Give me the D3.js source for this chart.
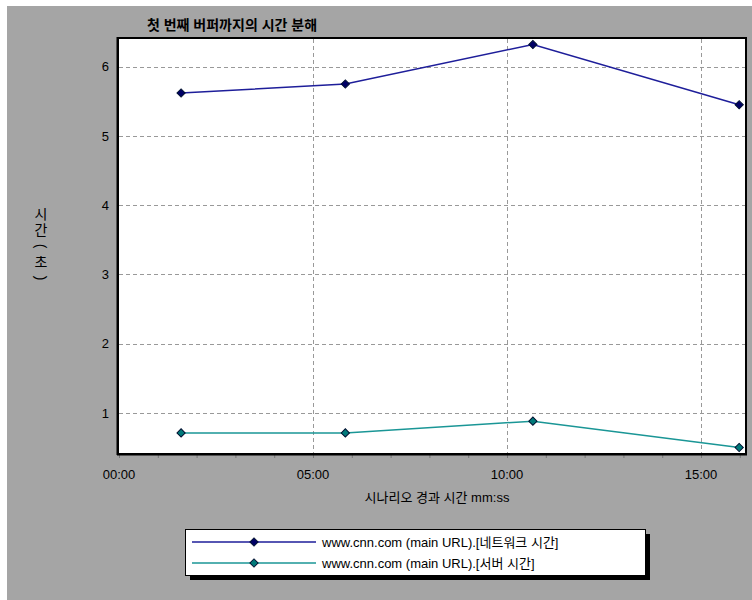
<!DOCTYPE html>
<html><head><meta charset="utf-8">
<script src="https://cdn.jsdelivr.net/npm/d3@7"></script>
<style>
html,body{margin:0;padding:0;background:#fff;}
svg{display:block;}
text{font-family:"Liberation Sans","Noto Sans CJK KR",sans-serif;}
</style></head>
<body>
<svg id="chart" width="752" height="600"></svg>
<script>
const title = "첫 번째 버퍼까지의 시간 분해";
const xAxisTitle = "시나리오 경과 시간 mm:ss";
const yAxisTitle = "시간(초)";
const seriesNames = ["www.cnn.com (main URL).[네트워크 시간]", "www.cnn.com (main URL).[서버 시간]"];
const elapsedSeconds = [96, 350, 640, 959];
const networkTime = [5.62, 5.75, 6.32, 5.45];
const serverTime = [0.71, 0.71, 0.88, 0.50];
const xTickSeconds = [0, 300, 600, 900];
const xTickLabels = ["00:00", "05:00", "10:00", "15:00"];
const yTickValues = [1, 2, 3, 4, 5, 6];
const seriesColors = ["#1e1e9a", "#1a9696"];
const markerColors = ["#000066", "#007a7a"];

const svg = d3.select("#chart");
svg.append("rect").attr("x", 7).attr("y", 6).attr("width", 745).attr("height", 594).attr("fill", "#a5a5a5");

const L = 119, T = 39, R = 745, B = 453;
const x = d3.scaleLinear().domain([0, 968]).range([L, R]);
const y = d3.scaleLinear().domain([0.42, 6.4]).range([B, T]);

svg.append("rect").attr("x", L).attr("y", T).attr("width", R - L).attr("height", B - T).attr("fill", "#fff");

// grid
const g = svg.append("g");
g.selectAll("line.hg").data(yTickValues).join("line")
  .attr("x1", L).attr("x2", R).attr("y1", d => Math.round(y(d)) + 0.5).attr("y2", d => Math.round(y(d)) + 0.5)
  .attr("stroke", "#999").attr("stroke-dasharray", "4,3").attr("stroke-width", 1);
g.selectAll("line.vg").data(xTickSeconds.slice(1)).join("line")
  .attr("y1", T).attr("y2", B).attr("x1", d => Math.round(x(d)) + 0.5).attr("x2", d => Math.round(x(d)) + 0.5)
  .attr("stroke", "#999").attr("stroke-dasharray", "4,3").attr("stroke-width", 1);

// axes
const xAxis = d3.axisBottom(x).tickValues(d3.range(0, 961, 60)).tickSize(4)
  .tickFormat(() => "");
const xa = svg.append("g").attr("transform", `translate(0,${B + 1})`).call(xAxis);
xa.select(".domain").remove();
xa.selectAll("line").attr("stroke", "#777");
const xLab = svg.append("g");
xLab.selectAll("text").data(xTickSeconds).join("text")
  .attr("x", d => x(d)).attr("y", 479).attr("text-anchor", "middle")
  .attr("font-size", 13).attr("fill", "#000").text((d, i) => xTickLabels[i]);

const yAxis = d3.axisLeft(y).tickValues(yTickValues).tickSize(0).tickPadding(10).tickFormat(d3.format("d"));
const ya = svg.append("g").attr("transform", `translate(${L},0)`).call(yAxis);
ya.select(".domain").remove();
ya.selectAll("text").attr("font-size", 13).attr("fill", "#000").attr("font-family", "Liberation Sans, sans-serif");

// frame
svg.append("rect").attr("x", L - 1).attr("y", T - 1).attr("width", R - L + 2).attr("height", B - T + 2)
  .attr("fill", "none").attr("stroke", "#000").attr("stroke-width", 2);
svg.append("line").attr("x1", L - 1.5).attr("x2", L - 1.5).attr("y1", T - 2).attr("y2", B + 2).attr("stroke", "#000").attr("stroke-width", 2);
svg.append("line").attr("x1", L - 2).attr("x2", R + 2).attr("y1", B + 1.5).attr("y2", B + 1.5).attr("stroke", "#000").attr("stroke-width", 2);

// series
const seriesData = [networkTime, serverTime];
const marker = d3.symbol().type(d3.symbolSquare).size(34);
seriesData.forEach((vals, si) => {
  const pts = vals.map((v, i) => [elapsedSeconds[i], v]);
  svg.append("path").datum(pts)
    .attr("d", d3.line().x(d => x(d[0])).y(d => y(d[1])))
    .attr("fill", "none").attr("stroke", seriesColors[si]).attr("stroke-width", 1.5);
  svg.append("g").selectAll("path").data(pts).join("path")
    .attr("transform", d => `translate(${x(d[0])},${y(d[1])}) rotate(45)`)
    .attr("d", marker)
    .attr("fill", markerColors[si]).attr("stroke", "#001030").attr("stroke-width", 1);
});

// titles
svg.append("text").attr("x", 232).attr("y", 30).attr("text-anchor", "middle")
  .attr("font-size", 14).attr("font-weight", "bold").attr("font-family", "Noto Sans CJK KR, sans-serif").text(title);
svg.append("text").attr("x", 437).attr("y", 502).attr("text-anchor", "middle")
  .attr("font-size", 13).attr("font-family", "Liberation Sans, Noto Sans CJK KR, sans-serif").text(xAxisTitle);
const yt = svg.append("g").attr("font-size", 14).attr("font-family", "Noto Sans CJK KR, sans-serif");
Array.from(yAxisTitle).forEach((ch, i) => {
  const isParen = ch === "(" || ch === ")";
  yt.append("text")
    .attr("transform", `translate(41,${214 + i * 16})` + (isParen ? " rotate(90)" : ""))
    .attr("text-anchor", "middle").attr("dominant-baseline", "central")
    .text(ch);
});

// legend
const lx = 185, ly = 529, lw = 460, lh = 46;
svg.append("rect").attr("x", lx + 5).attr("y", ly + 5).attr("width", lw).attr("height", lh).attr("fill", "#000");
svg.append("rect").attr("x", lx + 0.5).attr("y", ly + 0.5).attr("width", lw).attr("height", lh)
  .attr("fill", "#fff").attr("stroke", "#000").attr("stroke-width", 1);
seriesNames.forEach((name, si) => {
  const yy = ly + 13 + si * 21;
  svg.append("line").attr("x1", 192).attr("x2", 316).attr("y1", yy).attr("y2", yy)
    .attr("stroke", seriesColors[si]).attr("stroke-width", 1.5);
  svg.append("path").attr("transform", `translate(254,${yy}) rotate(45)`)
    .attr("d", marker)
    .attr("fill", markerColors[si]).attr("stroke", "#001030").attr("stroke-width", 1);
  svg.append("text").attr("x", 322).attr("y", yy + 5).attr("font-size", 13)
    .attr("font-family", "Liberation Sans, Noto Sans CJK KR, sans-serif").text(name);
});
</script>
</body></html>
